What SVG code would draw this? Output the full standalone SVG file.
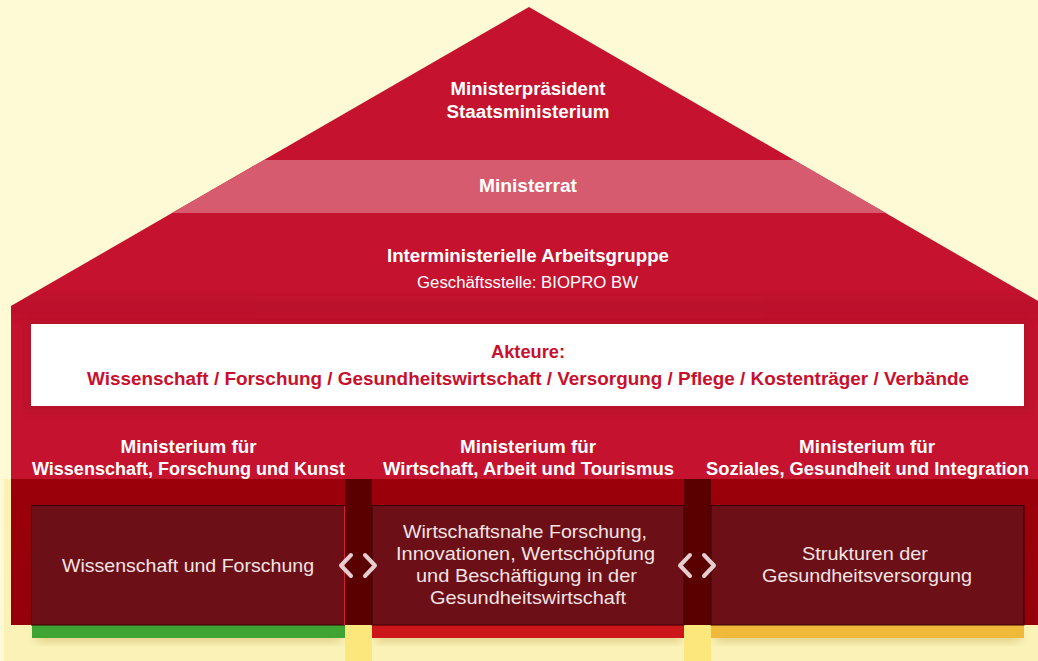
<svg xmlns="http://www.w3.org/2000/svg" width="1038" height="661" viewBox="0 0 1038 661">
<defs>
<style>
.t{font-family:"Liberation Sans",Arial,sans-serif;text-anchor:middle}
.b{font-weight:bold;fill:#fff;font-size:17.5px}
.h{font-weight:bold;fill:#fff;font-size:18px}
.s{fill:#fff;font-size:16px}
.r{font-weight:bold;fill:#C8102E;font-size:18px}
.w{fill:#F2E4E4;font-size:18.5px}
.chev{fill:none;stroke:#E6CDCF;stroke-width:4;stroke-linecap:round;stroke-linejoin:round}
</style>
<linearGradient id="botg" x1="0" y1="0" x2="0" y2="1">
<stop offset="0" stop-color="#9B000A"/>
<stop offset="1" stop-color="#94000A"/>
</linearGradient>
<clipPath id="roofclip">
<polygon points="529,7 1050,308 1050,479 11,479 11,306"/>
</clipPath>
<filter id="sh" x="-5%" y="-30%" width="110%" height="160%">
<feGaussianBlur stdDeviation="4"/>
</filter>
</defs>
<rect width="1038" height="661" fill="#FFFAD6"/>
<rect x="4" y="479" width="7" height="182" fill="#FDF1B8"/>
<rect x="11" y="625" width="1027" height="36" fill="#FBF2B8"/>
<g id="roof">
<polygon points="529,7 1050,308 1050,479 11,479 11,306" fill="#C5132F"/>
<g clip-path="url(#roofclip)">
<rect x="0" y="296" width="1050" height="22" fill="#A80E26" opacity="0.3" filter="url(#sh)"/>
</g>
</g>
<g id="ministerpraesident">
<text class="t b" x="528" y="95" textLength="155" lengthAdjust="spacingAndGlyphs">Ministerpräsident</text>
<text class="t b" x="528" y="118" textLength="163" lengthAdjust="spacingAndGlyphs">Staatsministerium</text>
</g>
<g id="ministerrat">
<polygon points="264,160 794,160 886,213 172,213" fill="#D75B6E"/>
<text class="t b" x="528" y="192" textLength="98" lengthAdjust="spacingAndGlyphs">Ministerrat</text>
</g>
<g id="arbeitsgruppe">
<text class="t b" x="528" y="262" textLength="282" lengthAdjust="spacingAndGlyphs">Interministerielle Arbeitsgruppe</text>
<text class="t s" x="527.5" y="288" textLength="221" lengthAdjust="spacingAndGlyphs">Geschäftsstelle: BIOPRO BW</text>
</g>
<g id="akteure">
<g clip-path="url(#roofclip)">
<rect x="25" y="320" width="1006" height="92" fill="#A00C22" opacity="0.35" filter="url(#sh)"/>
</g>
<rect x="31" y="324" width="993" height="82" fill="#fff"/>
<text class="t r" x="528" y="358" textLength="74" lengthAdjust="spacingAndGlyphs">Akteure:</text>
<text class="t r" x="528" y="385" textLength="882" lengthAdjust="spacingAndGlyphs">Wissenschaft / Forschung / Gesundheitswirtschaft / Versorgung / Pflege / Kostenträger / Verbände</text>
</g>
<g id="bottom-band">
<rect x="11" y="479" width="1027" height="146" fill="url(#botg)"/>
</g>
<g id="bars">
<rect x="36" y="630" width="305" height="12" fill="#C8B060" opacity="0.5" filter="url(#sh)"/>
<rect x="376" y="630" width="305" height="12" fill="#C8B060" opacity="0.5" filter="url(#sh)"/>
<rect x="715" y="630" width="305" height="12" fill="#C8B060" opacity="0.5" filter="url(#sh)"/>
<rect x="32" y="625" width="313" height="13" fill="#3EA535"/>
<rect x="372" y="625" width="312" height="13" fill="#CC161A"/>
<rect x="711" y="625" width="313" height="13" fill="#F0B93A"/>
</g>
<g id="gaps">
<rect x="345" y="479" width="27" height="146" fill="#5A0000"/>
<rect x="345" y="625" width="27" height="36" fill="#FBE77C"/>
<rect x="684" y="479" width="27" height="146" fill="#5A0000"/>
<rect x="684" y="625" width="27" height="36" fill="#FBE77C"/>
</g>
<g id="ministerium-wfk">
<text class="t h" x="188.5" y="453" textLength="136" lengthAdjust="spacingAndGlyphs">Ministerium für</text>
<text class="t h" x="188.5" y="475" textLength="313" lengthAdjust="spacingAndGlyphs">Wissenschaft, Forschung und Kunst</text>
<rect x="31.5" y="505.5" width="313" height="119.5" fill="#6D0F17" stroke="#3A0006" stroke-width="1"/>
<line x1="344.5" y1="506" x2="344.5" y2="625" stroke="#D0203A" stroke-width="1"/>
<text class="t w" x="188" y="571.5" textLength="252" lengthAdjust="spacingAndGlyphs">Wissenschaft und Forschung</text>
</g>
<g id="ministerium-wat">
<text class="t h" x="528" y="453" textLength="136" lengthAdjust="spacingAndGlyphs">Ministerium für</text>
<text class="t h" x="528.5" y="475" textLength="291" lengthAdjust="spacingAndGlyphs">Wirtschaft, Arbeit und Tourismus</text>
<rect x="372" y="505.5" width="312" height="119.5" fill="#6D0F17" stroke="#3A0006" stroke-width="1"/>
<text class="t w" x="525" y="538" textLength="244" lengthAdjust="spacingAndGlyphs">Wirtschaftsnahe Forschung,</text>
<text class="t w" x="525.5" y="560" textLength="259" lengthAdjust="spacingAndGlyphs">Innovationen, Wertschöpfung</text>
<text class="t w" x="526.5" y="582" textLength="221" lengthAdjust="spacingAndGlyphs">und Beschäftigung in der</text>
<text class="t w" x="528" y="604" textLength="196" lengthAdjust="spacingAndGlyphs">Gesundheitswirtschaft</text>
</g>
<g id="ministerium-sgi">
<text class="t h" x="867" y="453" textLength="136" lengthAdjust="spacingAndGlyphs">Ministerium für</text>
<text class="t h" x="867.5" y="475" textLength="323" lengthAdjust="spacingAndGlyphs">Soziales, Gesundheit und Integration</text>
<rect x="711" y="505.5" width="313" height="119.5" fill="#6D0F17" stroke="#3A0006" stroke-width="1"/>
<text class="t w" x="865" y="560" textLength="126" lengthAdjust="spacingAndGlyphs">Strukturen der</text>
<text class="t w" x="867" y="582" textLength="210" lengthAdjust="spacingAndGlyphs">Gesundheitsversorgung</text>
</g>
<g id="connectors">
<polyline class="chev" points="351,555 341,565.5 351,576"/>
<polyline class="chev" points="365,555 375,565.5 365,576"/>
<polyline class="chev" points="690,555 680,565.5 690,576"/>
<polyline class="chev" points="704,555 714,565.5 704,576"/>
</g>
</svg>
